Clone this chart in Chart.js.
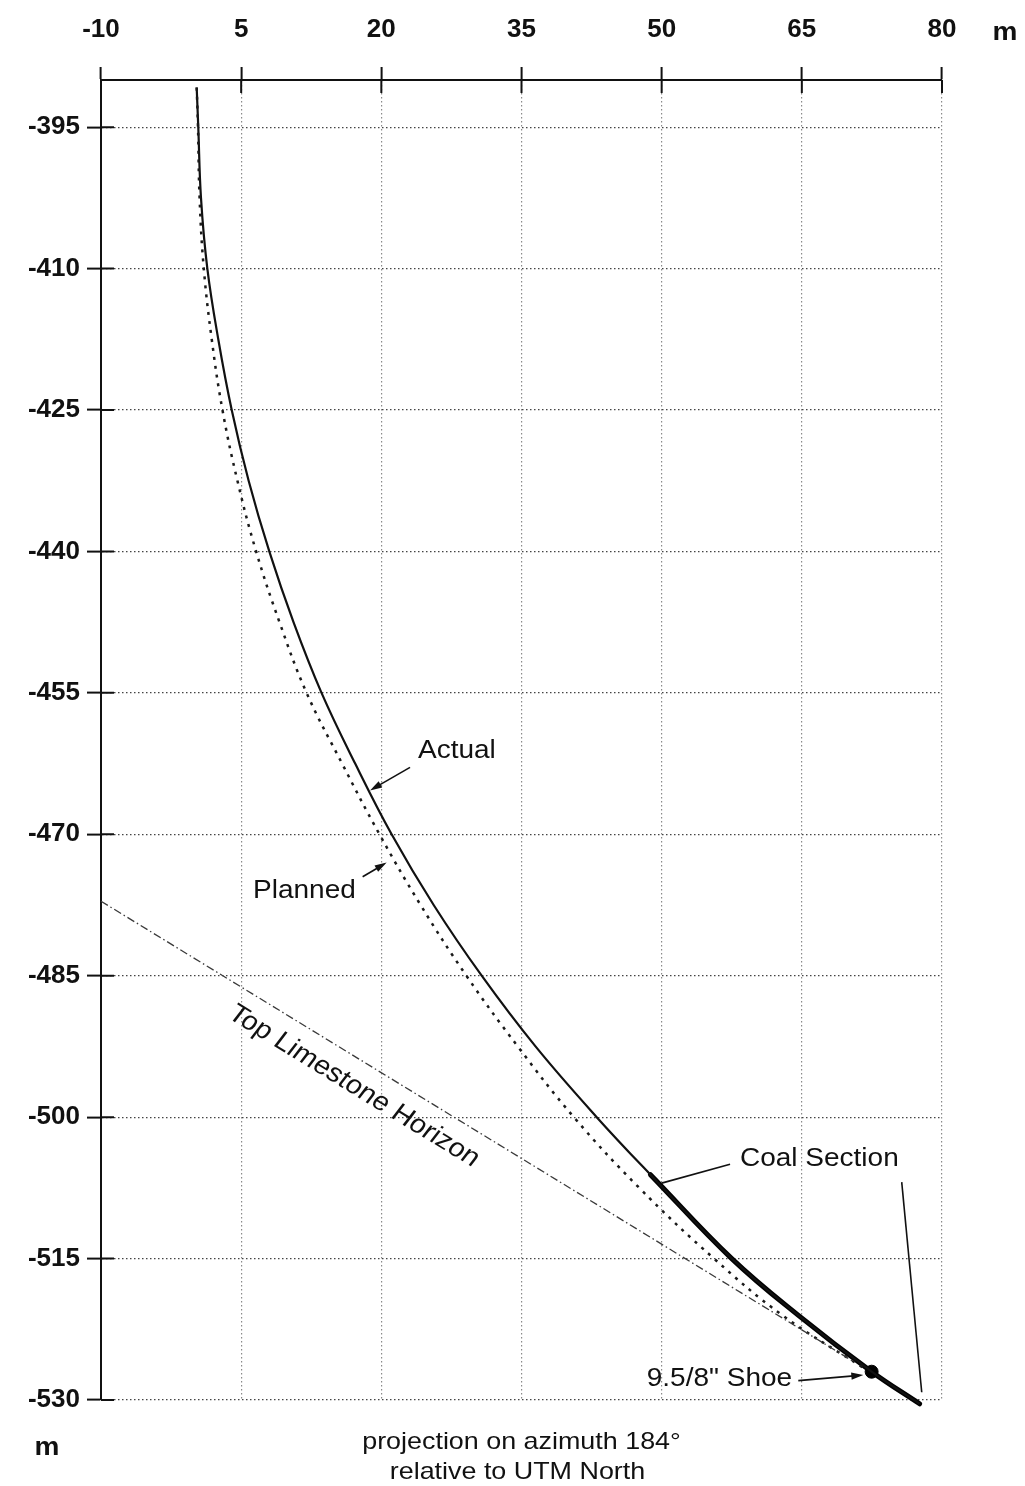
<!DOCTYPE html>
<html>
<head>
<meta charset="utf-8">
<script src="https://cdn.jsdelivr.net/npm/chart.js@4.4.1/dist/chart.umd.min.js"></script>
<style>
  html, body { margin: 0; padding: 0; background: #fff; }
  canvas { display: block; }
</style>
</head>
<body>
<canvas id="well" width="1025" height="1486"></canvas>
<script>
// Axis ticks (horizontal offset in m, depth in m)
const xTicks = [-10, 5, 20, 35, 50, 65, 80];
const depthTicks = [-395, -410, -425, -440, -455, -470, -485, -500, -515, -530];

// Actual well path
const actualX = [0.24, 0.41, 0.7, 1.38, 2.55, 3.99, 5.8, 8.01, 10.6, 13.6, 17.2, 21.1, 25.6, 30.74, 36.5, 43.05, 48.8, 57.5, 64.6, 72.47, 77.6];
const actualDepth = [-390.8, -395, -402.5, -410, -417.5, -425, -432.5, -440, -447.5, -455, -462.5, -470, -477.5, -485, -492.5, -500, -506.1, -515, -521, -527.0, -530.4];

// Planned well path
const plannedX = [0.24, 0.38, 0.55, 1.0, 1.85, 3.0, 4.6, 6.6, 9.1, 12.0, 15.8, 19.8, 24.2, 29.1, 34.6, 40.6, 47.6, 55.6, 62.9, 71.6];
const plannedDepth = [-390.8, -395, -402.5, -410, -417.5, -425, -432.5, -440, -447.5, -455, -462.5, -470, -477.5, -485, -492.5, -500, -507.5, -515, -521, -526.6];

// Coal section along the actual path
const coalX = [48.8, 57.5, 64.6, 72.47, 77.6];
const coalDepth = [-506.1, -515, -521, -527.0, -530.4];

// Top Limestone Horizon
const horizonX = [-10, 70.5];
const horizonDepth = [-477.1, -525.9];

// 9 5/8" casing shoe
const shoeX = [72.47];
const shoeDepth = [-527.0];

const FONT = '"Liberation Sans", Arial, Helvetica, sans-serif';
const STRETCH = 1.12;

// Label anchors, in data units
const notes = {
  actual:  { text: 'Actual',  at: [23.92, -461.2], from: [23.07, -462.9], to: [18.79, -465.35] },
  planned: { text: 'Planned', at: [6.27, -476.0],  from: [18.0, -474.5],  to: [20.57, -473.0] },
  shoe:    { text: '9.5/8" Shoe', at: [48.4, -527.77], from: [64.62, -527.95], to: [71.58, -527.35] },
  coal:    { text: 'Coal Section', at: [58.38, -504.46],
             leaders: [[[50.0, -507.0], [57.32, -504.99]], [[75.69, -506.9], [77.83, -529.18]]] },
  horizon: { text: 'Top Limestone Horizon', at: [17.07, -496.72] }
};

function pts(xs, ys) { return xs.map((x, i) => ({ x: x, y: ys[i] })); }

function stretchedText(ctx, text, x, y, size, weight, align) {
  ctx.save();
  ctx.font = weight + ' ' + size + 'px ' + FONT;
  ctx.fillStyle = '#111';
  ctx.textBaseline = 'middle';
  ctx.textAlign = align || 'left';
  ctx.translate(x, y);
  ctx.scale(STRETCH, 1);
  ctx.fillText(text, 0, 0);
  ctx.restore();
}

function arrow(ctx, x1, y1, x2, y2) {
  const a = Math.atan2(y2 - y1, x2 - x1);
  const len = 12, half = 3.6;
  ctx.save();
  ctx.strokeStyle = '#111';
  ctx.fillStyle = '#111';
  ctx.lineWidth = 1.6;
  ctx.beginPath();
  ctx.moveTo(x1, y1);
  ctx.lineTo(x2 - Math.cos(a) * len * 0.8, y2 - Math.sin(a) * len * 0.8);
  ctx.stroke();
  ctx.beginPath();
  ctx.moveTo(x2, y2);
  ctx.lineTo(x2 - Math.cos(a) * len - Math.sin(a) * half, y2 - Math.sin(a) * len + Math.cos(a) * half);
  ctx.lineTo(x2 - Math.cos(a) * len + Math.sin(a) * half, y2 - Math.sin(a) * len - Math.cos(a) * half);
  ctx.closePath();
  ctx.fill();
  ctx.restore();
}

// Tick marks that cross into the plot area
const crossTicks = {
  id: 'crossTicks',
  afterDraw(chart) {
    const { ctx, chartArea, scales } = chart;
    ctx.save();
    ctx.strokeStyle = '#111';
    ctx.lineWidth = 2;
    ctx.beginPath();
    scales.x.ticks.forEach(t => {
      const p = scales.x.getPixelForValue(t.value);
      ctx.moveTo(p, chartArea.top);
      ctx.lineTo(p, chartArea.top + 13);
    });
    scales.y.ticks.forEach(t => {
      const p = scales.y.getPixelForValue(t.value);
      ctx.moveTo(chartArea.left, p);
      ctx.lineTo(chartArea.left + 13, p);
    });
    ctx.stroke();
    ctx.restore();
  }
};

// Text labels, arrows and captions
const annotate = {
  id: 'annotate',
  afterDraw(chart) {
    const { ctx, chartArea, scales } = chart;
    const X = v => scales.x.getPixelForValue(v);
    const Y = v => scales.y.getPixelForValue(v);
    const P = p => [X(p[0]), Y(p[1])];

    ['actual', 'planned', 'shoe'].forEach(k => {
      const n = notes[k];
      const [tx, ty] = P(n.at);
      stretchedText(ctx, n.text, tx, ty, 25, 'normal');
      const [fx, fy] = P(n.from);
      const [hx, hy] = P(n.to);
      arrow(ctx, fx, fy, hx, hy);
    });

    const c = notes.coal;
    const [cx, cy] = P(c.at);
    stretchedText(ctx, c.text, cx, cy, 25, 'normal');
    ctx.save();
    ctx.strokeStyle = '#111';
    ctx.lineWidth = 1.6;
    c.leaders.forEach(l => {
      const [ax, ay] = P(l[0]);
      const [bx, by] = P(l[1]);
      ctx.beginPath();
      ctx.moveTo(ax, ay);
      ctx.lineTo(bx, by);
      ctx.stroke();
    });
    ctx.restore();

    // Horizon label runs parallel to the horizon line
    const h = notes.horizon;
    const [h1x, h1y] = [X(horizonX[0]), Y(horizonDepth[0])];
    const [h2x, h2y] = [X(horizonX[1]), Y(horizonDepth[1])];
    const ang = Math.atan2(h2y - h1y, h2x - h1x);
    const [hx, hy] = P(h.at);
    ctx.save();
    ctx.font = 'normal 26px ' + FONT;
    ctx.fillStyle = '#111';
    ctx.textAlign = 'center';
    ctx.textBaseline = 'middle';
    ctx.translate(hx, hy);
    ctx.scale(STRETCH, 1);
    ctx.rotate(Math.atan(Math.tan(ang) * STRETCH));
    ctx.fillText(h.text, 0, 0);
    ctx.restore();

    // Unit labels and caption
    stretchedText(ctx, 'm', chartArea.right + 63, 33, 25, 'bold', 'center');
    stretchedText(ctx, 'm', 47, chartArea.bottom + 48, 25, 'bold', 'center');
    const mid = (chartArea.left + chartArea.right) / 2;
    stretchedText(ctx, 'projection on azimuth 184\u00B0', mid, chartArea.bottom + 42, 24, 'normal', 'center');
    stretchedText(ctx, 'relative to UTM North', mid - 4, chartArea.bottom + 72, 24, 'normal', 'center');
  }
};

const tickFont = { family: FONT, size: 26, weight: 'bold' };

new Chart(document.getElementById('well'), {
  type: 'scatter',
  data: {
    datasets: [
      { label: 'Top Limestone Horizon', data: pts(horizonX, horizonDepth), showLine: true,
        borderColor: '#3a3a3a', borderWidth: 1.3, borderDash: [8, 3, 1.5, 3],
        pointRadius: 0, clip: false },
      { label: 'Planned', data: pts(plannedX, plannedDepth), showLine: true,
        borderColor: '#1a1a1a', borderWidth: 2.5, borderDash: [3, 6],
        tension: 0.4, pointRadius: 0, clip: false },
      { label: 'Actual', data: pts(actualX, actualDepth), showLine: true,
        borderColor: '#111', borderWidth: 2.2,
        tension: 0.4, pointRadius: 0, clip: false },
      { label: 'Coal Section', data: pts(coalX, coalDepth), showLine: true,
        borderColor: '#000', borderWidth: 5, borderCapStyle: 'round',
        tension: 0.4, pointRadius: 0, clip: false },
      { label: '9.5/8" Shoe', data: pts(shoeX, shoeDepth), showLine: false,
        pointRadius: 6.5, backgroundColor: '#000', borderColor: '#000', clip: false }
    ]
  },
  options: {
    responsive: false,
    animation: false,
    devicePixelRatio: 1,
    events: [],
    layout: { padding: { left: 0, right: 83, top: 0, bottom: 86 } },
    plugins: { legend: { display: false }, tooltip: { enabled: false } },
    scales: {
      x: {
        type: 'linear', position: 'top', min: -10, max: 80,
        afterBuildTicks: s => { s.ticks = xTicks.map(v => ({ value: v })); },
        afterFit: s => { s.height = 80; },
        grid: { color: '#8a8a8a', lineWidth: 1.2, tickLength: 13, tickColor: '#111', tickWidth: 2 },
        border: { color: '#111', width: 2, dash: [1.5, 2.5] },
        ticks: { color: '#111', font: tickFont, padding: 22, maxRotation: 0, autoSkip: false }
      },
      y: {
        type: 'linear', position: 'left', min: -530, max: -390,
        afterBuildTicks: s => { s.ticks = depthTicks.map(v => ({ value: v })); },
        afterFit: s => { s.width = 101; },
        grid: { color: '#444', lineWidth: 1.2, tickLength: 14, tickColor: '#111', tickWidth: 2 },
        border: { color: '#111', width: 2, dash: [1.5, 2.5] },
        ticks: { color: '#111', font: tickFont, padding: 7, autoSkip: false }
      }
    }
  },
  plugins: [crossTicks, annotate]
});
</script>
</body>
</html>
